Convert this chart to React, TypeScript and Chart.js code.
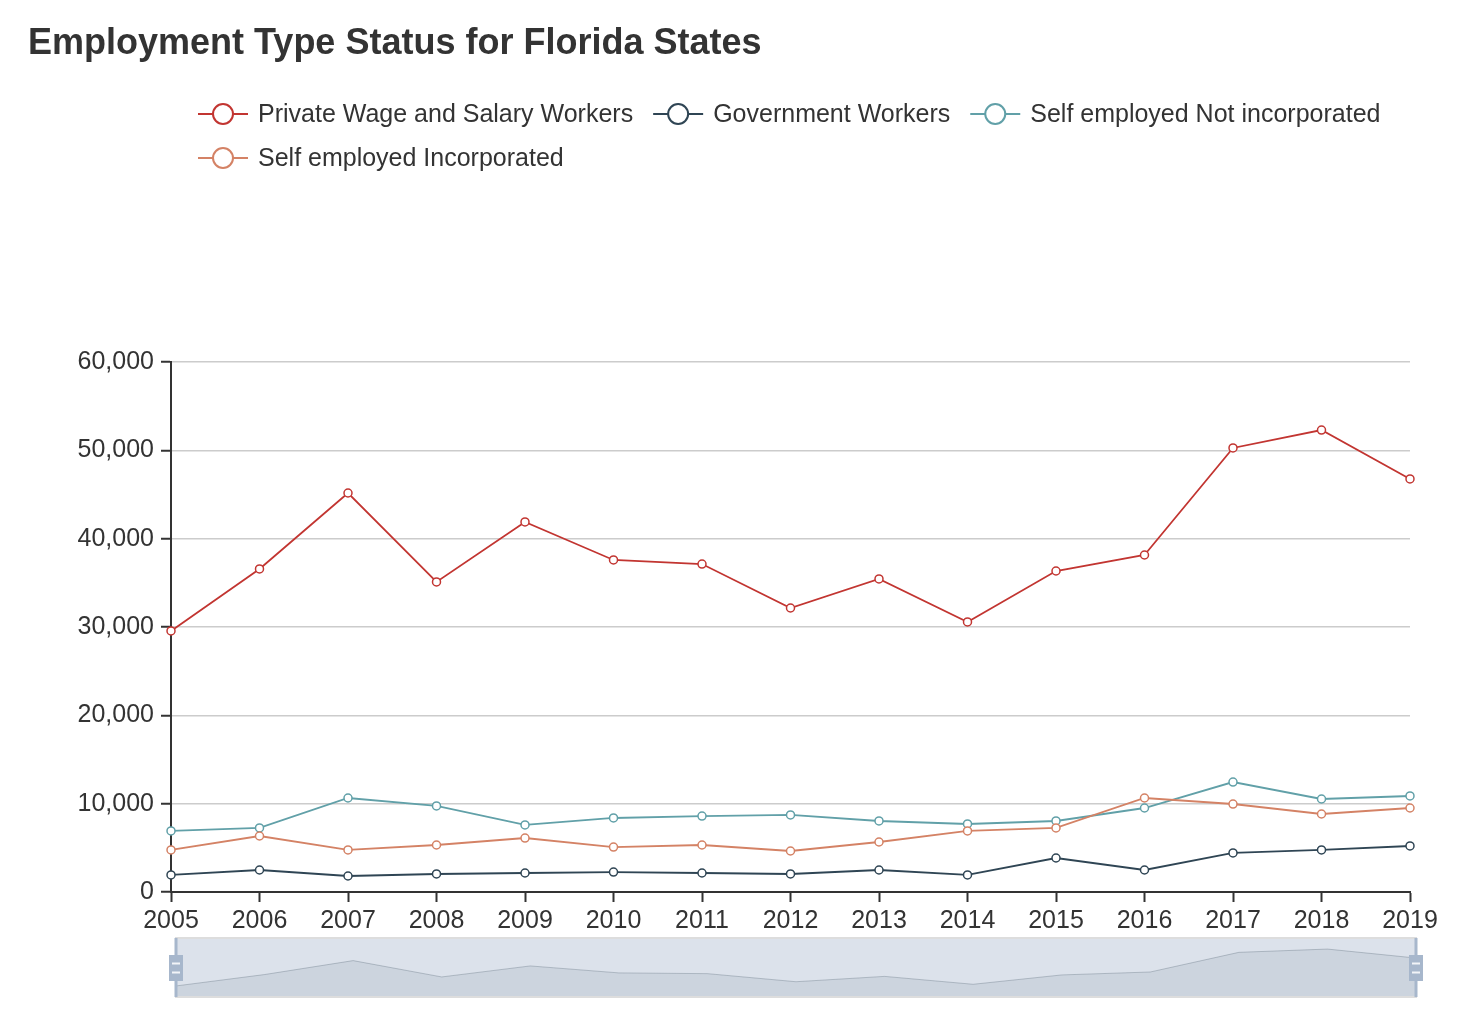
import React, { useEffect, useRef } from "react";
import { Chart, registerables } from "chart.js";

Chart.register(...registerables);

const TITLE = "Employment Type Status for Florida States";
const YEARS = ["2005", "2006", "2007", "2008", "2009", "2010", "2011", "2012", "2013", "2014", "2015", "2016", "2017", "2018", "2019"];
const SERIES_NAMES = [
  "Private Wage and Salary Workers",
  "Government Workers",
  "Self employed Not incorporated",
  "Self employed Incorporated",
];
const PRIVATE_WAGE = [29550, 36570, 45170, 35100, 41890, 37590, 37130, 32150, 35440, 30570, 36340, 38150, 50270, 52300, 46760];
const GOVERNMENT = [1930, 2490, 1810, 2040, 2150, 2260, 2150, 2040, 2490, 1930, 3850, 2490, 4420, 4760, 5210];
const SELF_NOT_INC = [6910, 7250, 10640, 9740, 7590, 8380, 8600, 8720, 8040, 7700, 8040, 9510, 12450, 10530, 10870];
const SELF_INC = [4760, 6340, 4760, 5320, 6110, 5090, 5320, 4640, 5660, 6910, 7250, 10640, 9960, 8830, 9510];
const COLORS = ["#c23531", "#2f4554", "#61a0a8", "#d48265"];
const Y_MIN = 0;
const Y_MAX = 60000;
const Y_STEP = 10000;

const FONT = '"Liberation Sans", Arial, Helvetica, sans-serif';

export default function App() {
  const ref = useRef<HTMLCanvasElement | null>(null);

  useEffect(() => {
    const canvas = ref.current;
    if (!canvas) return;
    Chart.defaults.font.family = FONT;

    const overlay = {
      id: "overlay",
      afterDraw(chart: any) {
        const ctx = chart.ctx as CanvasRenderingContext2D;
        ctx.save();
        // Title
        ctx.fillStyle = "#333";
        ctx.font = `bold 36px ${FONT}`;
        ctx.textAlign = "left";
        ctx.textBaseline = "alphabetic";
        ctx.fillText(TITLE, 28, 54);

        // Legend
        ctx.font = `25px ${FONT}`;
        ctx.textBaseline = "middle";
        let lx = 198;
        let ly = 114;
        const maxX = 1420;
        SERIES_NAMES.forEach((name, i) => {
          const tw = ctx.measureText(name).width;
          const itemW = 50 + 10 + tw;
          if (lx + itemW > maxX) {
            lx = 198;
            ly += 44;
          }
          ctx.strokeStyle = COLORS[i];
          ctx.lineWidth = 2;
          ctx.beginPath();
          ctx.moveTo(lx, ly);
          ctx.lineTo(lx + 50, ly);
          ctx.stroke();
          ctx.beginPath();
          ctx.arc(lx + 25, ly, 10, 0, Math.PI * 2);
          ctx.fillStyle = "#fff";
          ctx.fill();
          ctx.stroke();
          ctx.fillStyle = "#333";
          ctx.fillText(name, lx + 60, ly + 1);
          lx += itemW + 20;
        });

        // Data zoom slider
        const x0 = 176;
        const x1 = 1416;
        const y0 = 938;
        const y1 = 997;
        const h = y1 - y0;
        ctx.fillStyle = "rgba(167,183,204,0.4)";
        ctx.fillRect(x0, y0, x1 - x0, h);
        const vals = PRIVATE_WAGE;
        let mn = Math.min(...vals);
        let mx = Math.max(...vals);
        const off = (mx - mn) * 0.3;
        mn -= off;
        mx += off;
        const px = (i: number) => x0 + (i * (x1 - x0)) / (vals.length - 1);
        const py = (v: number) => y1 - ((v - mn) / (mx - mn)) * h;
        ctx.beginPath();
        ctx.moveTo(x0, y1);
        vals.forEach((v, i) => ctx.lineTo(px(i), py(v)));
        ctx.lineTo(x1, y1);
        ctx.closePath();
        ctx.fillStyle = "rgba(47,69,84,0.09)";
        ctx.fill();
        ctx.beginPath();
        vals.forEach((v, i) => (i === 0 ? ctx.moveTo(px(i), py(v)) : ctx.lineTo(px(i), py(v))));
        ctx.strokeStyle = "rgba(47,69,84,0.25)";
        ctx.lineWidth = 1;
        ctx.stroke();
        ctx.strokeStyle = "#ddd";
        ctx.lineWidth = 2;
        ctx.strokeRect(x0, y0, x1 - x0, h);
        [x0, x1].forEach((hx) => {
          ctx.fillStyle = "#a7b7cc";
          ctx.fillRect(hx - 1.5, y0, 3, h);
          ctx.fillRect(hx - 7, 955, 14, 26);
          ctx.fillStyle = "rgba(255,255,255,0.85)";
          ctx.fillRect(hx - 4, 962.5, 8, 2);
          ctx.fillRect(hx - 4, 971.5, 8, 2);
        });
        ctx.restore();
      },
    };

    const datasets = [PRIVATE_WAGE, GOVERNMENT, SELF_NOT_INC, SELF_INC].map((d, i) => ({
      label: SERIES_NAMES[i],
      data: d,
      borderColor: COLORS[i],
      backgroundColor: "#fff",
      pointBackgroundColor: "#fff",
      pointBorderColor: COLORS[i],
      pointBorderWidth: 1.5,
      pointRadius: 4,
      borderWidth: 1.8,
      tension: 0,
      order: SERIES_NAMES.length - i,
    }));

    const chart = new Chart(canvas, {
      type: "line",
      data: { labels: YEARS, datasets },
      options: {
        animation: false,
        responsive: false,
        devicePixelRatio: 1,
        layout: { padding: { top: 362, left: 0, right: 62, bottom: 84 } },
        plugins: { legend: { display: false }, title: { display: false }, tooltip: { enabled: false } },
        scales: {
          x: {
            type: "category",
            offset: false,
            afterFit: (s: any) => {
              s.height = 50;
            },
            grid: {
              display: true,
              drawOnChartArea: false,
              drawTicks: true,
              tickLength: 10,
              tickColor: "#333",
              tickWidth: 2,
            },
            border: { display: true, color: "#333", width: 2 },
            ticks: {
              color: "#333",
              font: { size: 25, family: FONT },
              padding: 4,
              maxRotation: 0,
              autoSkip: false,
            },
          },
          y: {
            min: Y_MIN,
            max: Y_MAX,
            afterFit: (s: any) => {
              s.width = 171;
            },
            grid: {
              color: "#ccc",
              lineWidth: 1.5,
              drawTicks: true,
              tickLength: 10,
              tickColor: "#333",
              tickWidth: 2,
            },
            border: { display: true, color: "#333", width: 2 },
            ticks: {
              stepSize: Y_STEP,
              color: "#333",
              font: { size: 25, family: FONT },
              padding: 7,
              callback: (v: any) => Number(v).toLocaleString("en-US"),
            },
          },
        },
      },
      plugins: [overlay],
    } as any);

    return () => chart.destroy();
  }, []);

  return (
    <div style={{ position: "absolute", left: 0, top: 0, width: 1472, height: 1026, background: "#fff" }}>
      <canvas ref={ref} width={1472} height={1026} style={{ width: 1472, height: 1026, display: "block" }} />
    </div>
  );
}
